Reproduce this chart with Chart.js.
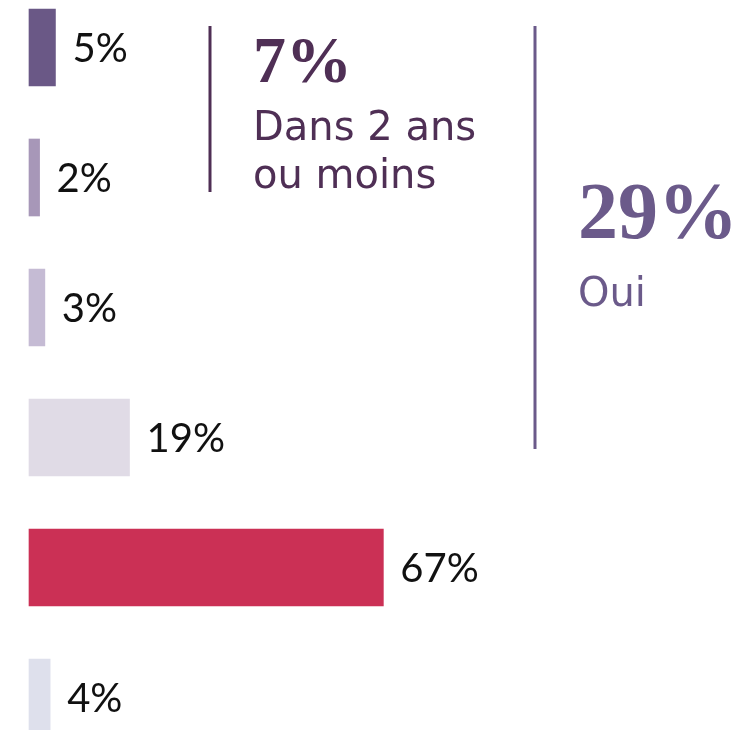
<!DOCTYPE html>
<html>
<head>
<meta charset="utf-8">
<script src="https://cdn.jsdelivr.net/npm/chart.js@4"></script>
<style>
  html, body { margin: 0; padding: 0; background: #fff; }
  #wrap { width: 748px; height: 730px; position: relative; }
</style>
</head>
<body>
<div id="wrap"><canvas id="barChart"></canvas></div>
<script>
// --- data ---
const categories = ['Oui, dans 1 an', 'Oui, dans 2 ans', 'Oui, dans 3 ans', 'Oui, plus tard', 'Non', 'Ne sait pas'];
const values = [5, 2, 3, 19, 67, 4];
const barColors = ['#6a5886', '#a797b8', '#c5bbd4', '#e0dbe6', '#cb3055', '#dee0ec'];

// brackets: first/last category index, headline, caption lines
const groupFrom = [0, 0];
const groupTo = [1, 3];
const groupHeads = ['7%', '29%'];
const groupCaptions = [['Dans 2 ans', 'ou moins'], ['Oui']];

const SANS = 'Lato, "Open Sans", sans-serif';
const WIDE = '"DejaVu Sans", sans-serif';
const SERIF = '"Liberation Serif", "DejaVu Serif", serif';

// value labels to the right of each bar
const valueLabels = {
    id: 'valueLabels',
    afterDatasetsDraw(chart) {
        const ctx = chart.ctx;
        const meta = chart.getDatasetMeta(0);
        ctx.save();
        ctx.font = '40px ' + SANS;
        ctx.fillStyle = '#111';
        ctx.textAlign = 'left';
        ctx.textBaseline = 'middle';
        meta.data.forEach((bar, i) => {
            ctx.fillText(values[i] + '%', bar.x + 17, bar.y + 2);
        });
        ctx.restore();
    }
};

// vertical brackets with big figure + caption
const brackets = {
    id: 'brackets',
    afterDraw(chart) {
        const ctx = chart.ctx;
        const y = chart.scales.y;
        const cfg = [
            { x: 210, top: -21.5, bot: 14.5, col: '#4f2f55', tx: 253, head: 82, headSize: 66, cap: 140, capStep: 48 },
            { x: 535, top: -21.5, bot: 11.5, col: '#6b5a8a', tx: 578, head: 238, headSize: 80, cap: 306, capStep: 48 }
        ];
        ctx.save();
        cfg.forEach((c, g) => {
            ctx.strokeStyle = c.col;
            ctx.lineWidth = 3;
            ctx.beginPath();
            ctx.moveTo(c.x, y.getPixelForValue(groupFrom[g]) + c.top);
            ctx.lineTo(c.x, y.getPixelForValue(groupTo[g]) + c.bot);
            ctx.stroke();

            ctx.fillStyle = c.col;
            ctx.textAlign = 'left';
            ctx.textBaseline = 'alphabetic';
            ctx.font = 'bold ' + c.headSize + 'px ' + SERIF;
            ctx.fillText(groupHeads[g], c.tx, c.head);
            ctx.font = '40px ' + WIDE;
            groupCaptions[g].forEach((line, k) => {
                ctx.fillText(line, c.tx, c.cap + k * c.capStep);
            });
        });
        ctx.restore();
    }
};

new Chart(document.getElementById('barChart').getContext('2d'), {
    type: 'bar',
    data: {
        labels: categories,
        datasets: [{
            data: values,
            backgroundColor: barColors,
            borderWidth: 0,
            barThickness: 77,
            clip: false
        }]
    },
    options: {
        indexAxis: 'y',
        responsive: true,
        maintainAspectRatio: false,
        animation: false,
        layout: { padding: { left: 29, right: 5, top: 47.5, bottom: 32.5 } },
        plugins: { legend: { display: false }, tooltip: { enabled: false } },
        scales: {
            x: { display: false, min: 0, max: 135 },
            y: { display: false, offset: false }
        }
    },
    plugins: [valueLabels, brackets]
});
</script>
</body>
</html>
